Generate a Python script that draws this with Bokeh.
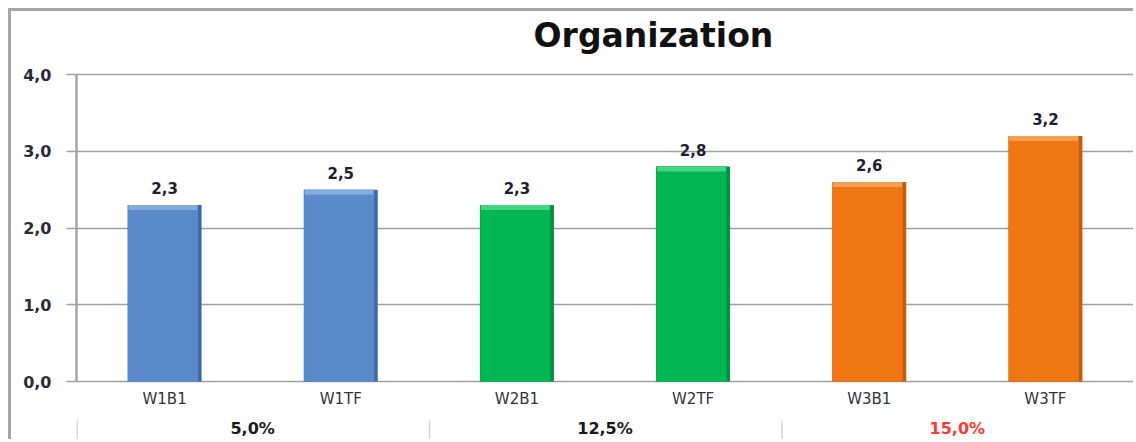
from bokeh.plotting import figure
from bokeh.models import ColumnDataSource, FactorRange, Range1d, FixedTicker, Label
from bokeh.transform import dodge
from bokeh.core.properties import value
from bokeh.embed import file_html
from bokeh.resources import INLINE

# ---------------- data ----------------
categories = ["W1B1", "W1TF", "W2B1", "W2TF", "W3B1", "W3TF"]
values = [2.3, 2.5, 2.3, 2.8, 2.6, 3.2]
value_labels = ["2,3", "2,5", "2,3", "2,8", "2,6", "3,2"]
group_of = [0, 0, 1, 1, 2, 2]
group_labels = ["5,0%", "12,5%", "15,0%"]
group_label_colors = ["#1a1a1a", "#1a1a1a", "#ff3b30"]
bar_colors = ["#5a8acb", "#00b853", "#f07613"]
edge_colors = ["#3d69a6", "#00903f", "#c45d08"]
top_colors = ["#8db2e3", "#52d98b", "#f9a65c"]
y_ticks = [0, 1, 2, 3, 4]
y_tick_labels = ["0,0", "1,0", "2,0", "3,0", "4,0"]
title_text = "Organization"

FONT = "DejaVu Sans"
W, H = 1125, 431          # canvas placed at (11, 11) after margin + border
LEFT = 65
PX = 76.75                # pixels per unit
BASE = 370                # canvas y of value 0
y_lo = -(H - BASE) / PX
y_hi = BASE / PX

p = figure(width=W, height=H, output_backend="svg", toolbar_location=None,
           x_range=FactorRange(*categories, range_padding=0),
           y_range=Range1d(y_lo, y_hi),
           min_border_left=LEFT, min_border_right=3, min_border_top=0, min_border_bottom=0,
           styles={"margin-left": "8px", "margin-top": "8px",
                   "border-left": "3px solid #a6a6a6", "border-top": "3px solid #a6a6a6"})
p.outline_line_color = None
p.background_fill_color = "white"
p.border_fill_color = "white"
p.xaxis.visible = False
p.xgrid.visible = False

p.ygrid.ticker = FixedTicker(ticks=y_ticks)
p.ygrid.bounds = (y_ticks[0], y_ticks[-1])
p.ygrid.grid_line_color = "#a0a0a0"
p.ygrid.grid_line_width = 1.5

yax = p.yaxis[0]
yax.ticker = FixedTicker(ticks=y_ticks)
yax.bounds = (y_ticks[0], y_ticks[-1])
yax.major_label_overrides = {t: l for t, l in zip(y_ticks, y_tick_labels)}
yax.axis_line_color = "#a6a6a6"
yax.axis_line_width = 2.5
yax.major_tick_line_color = "#a0a0a0"
yax.major_tick_line_width = 1.5
yax.major_tick_out = 10
yax.major_tick_in = 0
yax.minor_tick_line_color = None
yax.major_label_standoff = 15
yax.major_label_text_font = FONT
yax.major_label_text_font_style = "bold"
yax.major_label_text_font_size = "16px"
yax.major_label_text_color = "#2a2a3a"

src = ColumnDataSource(dict(
    cat=categories,
    val=values,
    lab=value_labels,
    lab_y=[v + 16.5 / PX for v in values],
    band=[v - 5 / PX for v in values],
    fill=[bar_colors[g] for g in group_of],
    edge=[edge_colors[g] for g in group_of],
    topc=[top_colors[g] for g in group_of],
    cat_y=[-17.5 / PX] * len(categories),
))

BW = 0.42
p.vbar(x="cat", top="val", bottom=0, width=BW, source=src, fill_color="edge", line_color=None)
p.vbar(x=dodge("cat", -0.009, range=p.x_range), top="val", bottom=0, width=BW - 0.022,
       source=src, fill_color="fill", line_color=None)
p.vbar(x=dodge("cat", -0.009, range=p.x_range), top="val", bottom="band", width=BW - 0.03,
       source=src, fill_color="topc", line_color=None, fill_alpha=0.85)

p.text(x="cat", y="lab_y", text="lab", source=src, text_align="center", text_baseline="middle",
       text_font=value(FONT), text_font_style="bold", text_font_size="15px", text_color="#1e1e30")
p.text(x="cat", y="cat_y", text="cat", source=src, text_align="center", text_baseline="middle",
       text_font=value(FONT), text_font_size="15px", text_color="#333344")

# group labels and separators
g_center, g_left = [], []
for gi in range(len(group_labels)):
    idx = [i for i, g in enumerate(group_of) if g == gi]
    g_left.append(float(idx[0]))
    g_center.append((idx[0] + idx[-1] + 1) / 2)
gsrc = ColumnDataSource(dict(x=g_center, y=[-47 / PX] * len(group_labels), t=group_labels, c=group_label_colors))
p.text(x="x", y="y", text="t", source=gsrc, text_color="c", text_align="center", text_baseline="middle",
       text_font=value(FONT), text_font_style="bold", text_font_size="16px")
ssrc = ColumnDataSource(dict(x=[x + 0.004 for x in g_left], y0=[-39 / PX] * len(g_left), y1=[y_lo] * len(g_left)))
p.segment(x0="x", x1="x", y0="y0", y1="y1", source=ssrc, line_color="#d4d4d4", line_width=1.5)

# title
p.add_layout(Label(x=3.275, y=346 / PX, text=title_text, text_align="center", text_baseline="middle",
                   text_font=FONT, text_font_style="bold", text_font_size="33px", text_color="#111111"))

open("out.html", "w").write(file_html(p, INLINE))
